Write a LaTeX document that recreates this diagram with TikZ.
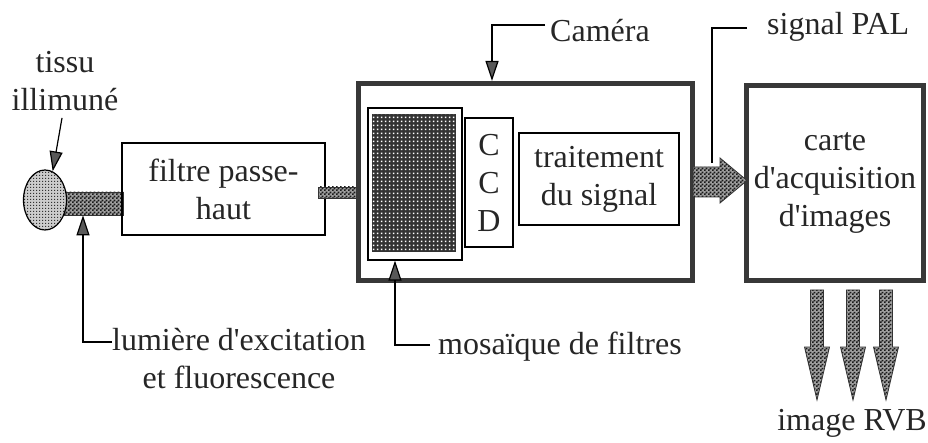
\documentclass[tikz,border=0pt]{standalone}
\usepackage{fontspec}
\setmainfont{Liberation Serif}
\usetikzlibrary{arrows.meta,shapes.geometric,patterns}

% halftone screens
\pgfdeclarepatternformonly{checker}{\pgfpointorigin}{\pgfqpoint{4pt}{4pt}}{\pgfqpoint{4pt}{4pt}}{%
  \pgfpathrectangle{\pgfpointorigin}{\pgfqpoint{2pt}{2pt}}%
  \pgfpathrectangle{\pgfqpoint{2pt}{2pt}}{\pgfqpoint{2pt}{2pt}}%
  \pgfusepath{fill}}
\pgfdeclarepatternformonly{finedots}{\pgfpointorigin}{\pgfqpoint{3pt}{3pt}}{\pgfqpoint{3pt}{3pt}}{%
  \pgfpathrectangle{\pgfpointorigin}{\pgfqpoint{1.6pt}{1.6pt}}\pgfusepath{fill}}
\pgfdeclarepatternformonly{sensorgrid}{\pgfpointorigin}{\pgfqpoint{4pt}{4pt}}{\pgfqpoint{4pt}{4pt}}{%
  \pgfpathrectangle{\pgfqpoint{1pt}{1pt}}{\pgfqpoint{2pt}{2pt}}\pgfusepath{fill}}

\newcommand{\apos}{\textquotesingle}

\tikzset{
  lbl/.style={font=\fontsize{32}{38}\selectfont, inner sep=0pt, align=center, text=black!85},
  block/.style={lbl, draw, line width=1.2pt, rectangle},
  housing/.style={lbl, draw=black!78, line width=5pt, rectangle},
  lead/.style={line width=1.2pt},
  leadarrow/.style={lead, -{Triangle[length=20pt,width=13pt,fill=black!65]}},
  halftone/.style={preaction={fill=gray!75}, pattern=checker, pattern color=black!90,
                   draw=black!80, line width=0.8pt},
  lighttone/.style={preaction={fill=gray!40}, pattern=finedots, pattern color=black!80,
                    draw, line width=1.2pt},
}

\begin{document}
\begin{tikzpicture}[x=1pt, y=-1pt]
\useasboundingbox (0,0) rectangle (928,443);

% tissue and optical path
\node[lbl] (tissu) at (65,81) {tissu\\illimuné};
\node[halftone, rectangle, minimum width=61pt, minimum height=23pt, inner sep=0pt] (lbar) at (93,203.5) {};
\node[ellipse, lighttone, minimum width=43pt, minimum height=60pt, inner sep=0pt] (tis) at (45,200) {};
\node[block, minimum width=203pt, minimum height=92pt] (filtre) at (223.5,189) {filtre passe-\\haut};
\node[halftone, rectangle, minimum width=39pt, minimum height=11pt, inner sep=0pt] (rbar) at (337.5,192.5) {};

% camera
\node[housing, minimum width=334pt, minimum height=197pt] (camera) at (525.5,182) {};
\node[block, minimum width=94pt, minimum height=152pt] (mosaic) at (415,184) {};
\node[rectangle, inner sep=0pt, minimum width=84pt, minimum height=138pt,
      preaction={fill=black!80}, pattern=sensorgrid, pattern color=white] (sensor) at (414,183) {};
\node[block, minimum width=48pt, minimum height=129pt] (ccd) at (489,182.5) {C\\C\\D};
\node[block, minimum width=160pt, minimum height=92pt] (trait) at (599,179) {traitement\\du signal};

% acquisition board
\node[housing, minimum width=177pt, minimum height=195pt] (carte) at (835,183)
  {carte\\d\apos acquisition\\d\apos images};

% video link camera -> board
\draw[halftone] (693,167) -- (720,167) -- (720,158) -- (747,180.5) -- (720,203)
  -- (720,197) -- (693,197) -- cycle;

% RGB outputs
\foreach \x in {817,853,886}{
  \draw[halftone] (\x-6.5,290) -- (\x+6.5,290) -- (\x+6.5,347) -- (\x+12.5,347)
    -- (\x,400) -- (\x-12.5,347) -- (\x-6.5,347) -- cycle;
}
\node[lbl] (rvb) at (852,423) {image RVB};

% callouts
\draw[leadarrow] ([xshift=-3pt,yshift=-7pt]tissu.south) -- (tis.75);

\node[lbl, anchor=west] (camlbl) at (550,31) {Caméra};
\coordinate (camk) at (492,25);
\draw[leadarrow] ([xshift=-5pt]camlbl.west |- camk) -- (camk) -- (camk |- camera.north);

\node[lbl, anchor=west] (pallbl) at (767,27) {signal PAL};
\coordinate (palk) at (712,28);
\coordinate (palfoot) at (712,163);
\draw[lead] ([xshift=-20pt]pallbl.west |- palk) -- (palk) -- (palfoot);

\node[lbl, anchor=west] (mosl) at (438,347) {mosaïque de filtres};
\coordinate (mosk) at (395,345);
\draw[leadarrow] ([xshift=-8pt]mosl.west |- mosk) -- (mosk) -- (mosk |- mosaic.south);

\node[lbl, anchor=west] (luml) at (112,359) {lumière d\apos excitation\\et fluorescence};
\coordinate (lumk) at (83,342);
\draw[leadarrow] (lumk -| luml.west) -- (lumk) -- (lumk |- lbar.south);
\end{tikzpicture}
\end{document}
